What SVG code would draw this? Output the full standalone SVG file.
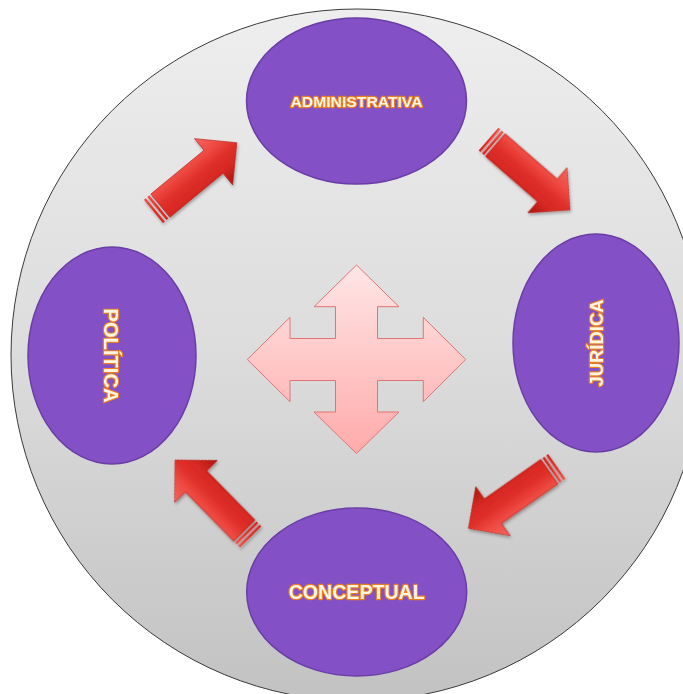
<svg xmlns="http://www.w3.org/2000/svg" xmlns:xlink="http://www.w3.org/1999/xlink" width="683" height="694" viewBox="0 0 683 694">
<style>
.node{fill:#8450c5;stroke:#6a3ea6;stroke-width:1.5}
.lbl{font-family:"Liberation Sans",Arial,sans-serif;font-weight:bold;fill:#fff6e2;stroke:#ea7f26;stroke-width:2.4;stroke-linejoin:round;paint-order:stroke;text-anchor:middle}
</style>
<defs>
<linearGradient id="bg" x1="0" y1="0" x2="0" y2="1">
<stop offset="0" stop-color="#eeeeee"/>
<stop offset="0.5" stop-color="#dcdcdc"/>
<stop offset="1" stop-color="#c2c2c2"/>
</linearGradient>
<linearGradient id="cross" x1="0" y1="0" x2="0" y2="1">
<stop offset="0" stop-color="#ffe6e6"/>
<stop offset="1" stop-color="#ffabab"/>
</linearGradient>
<linearGradient id="red" gradientUnits="userSpaceOnUse" x1="0" y1="-30" x2="0" y2="30">
<stop offset="0" stop-color="#f2675f"/>
<stop offset="0.3" stop-color="#ee4a42"/>
<stop offset="0.5" stop-color="#e0302a"/>
<stop offset="0.72" stop-color="#d62823"/>
<stop offset="1" stop-color="#a8160f"/>
</linearGradient>
<filter id="sh" x="-20%" y="-20%" width="140%" height="140%">
<feDropShadow dx="1" dy="2" stdDeviation="1.5" flood-color="#000" flood-opacity="0.3"/>
</filter>
<g id="redArrow">
<rect x="0" y="-15" width="2.5" height="30" fill="url(#red)"/>
<rect x="4.5" y="-15" width="2.5" height="30" fill="url(#red)"/>
<path d="M9,-15 L78,-15 L78,-30 L108,0 L78,30 L78,15 L9,15 Z" fill="url(#red)" stroke="#b5201a" stroke-width="0.6"/>
</g>
</defs>
<rect width="683" height="694" fill="#ffffff"/>
<circle id="backdrop" cx="357" cy="355" r="346" fill="url(#bg)" stroke="#3a3a3a" stroke-width="1"/>
<g id="center-cross">
<path d="M356.5,265 L399,306.7 L377.5,306.7 L377.5,338.5 L423.3,338.5 L423.3,317.3 L465.7,359.5 L423.3,401.7 L423.3,380.5 L377.5,380.5 L377.5,412 L399,412 L356.5,453.5 L314,412 L335.5,412 L335.5,380.5 L290,380.5 L290,401.7 L247.3,359.5 L290,317.3 L290,338.5 L335.5,338.5 L335.5,306.7 L314,306.7 Z" fill="url(#cross)" stroke="#e07474" stroke-width="1"/>
</g>
<g id="connectors" filter="url(#sh)">
<use xlink:href="#redArrow" transform="translate(153.4,211.4) rotate(-39.5)"/>
<use xlink:href="#redArrow" transform="translate(488.5,139.1) rotate(41)"/>
<use xlink:href="#redArrow" transform="translate(556.8,466.4) rotate(145)"/>
<use xlink:href="#redArrow" transform="translate(250.7,537) rotate(-134.5)"/>
</g>
<g id="node-administrativa">
<ellipse class="node" cx="356.5" cy="101" rx="110" ry="83"/>
<text class="lbl" x="356.5" y="107" font-size="15" textLength="132" lengthAdjust="spacingAndGlyphs">ADMINISTRATIVA</text>
</g>
<g id="node-juridica">
<ellipse class="node" cx="596" cy="343" rx="83" ry="109"/>
<text class="lbl" font-size="19" transform="translate(596,343) rotate(-90)" x="0" y="6.8" textLength="87" lengthAdjust="spacingAndGlyphs">JURÍDICA</text>
</g>
<g id="node-conceptual">
<ellipse class="node" cx="356.7" cy="592" rx="110" ry="84"/>
<text class="lbl" x="356.7" y="599" font-size="20" textLength="136" lengthAdjust="spacingAndGlyphs">CONCEPTUAL</text>
</g>
<g id="node-politica">
<ellipse class="node" cx="112" cy="355.5" rx="84" ry="108.5"/>
<text class="lbl" font-size="20" transform="translate(111,355.5) rotate(90)" x="0" y="7.2" textLength="94" lengthAdjust="spacingAndGlyphs">POLÍTICA</text>
</g>
</svg>
